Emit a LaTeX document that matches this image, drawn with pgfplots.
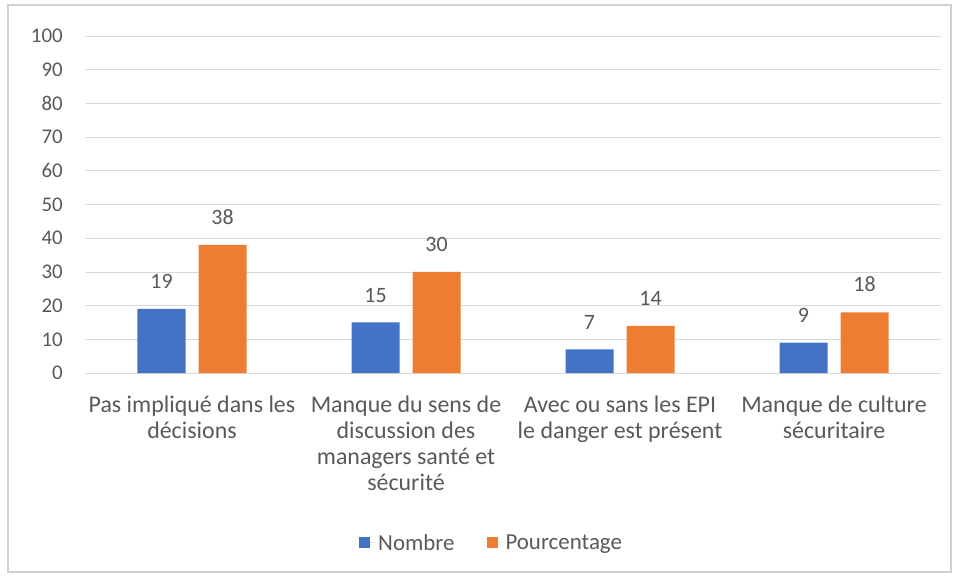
\documentclass[border=0pt]{standalone}
\usepackage{pgfplots}
\pgfplotsset{compat=1.18}
\usepackage{fontspec}
\setmainfont{Carlito}
\definecolor{cblue}{HTML}{4472C4}
\definecolor{corange}{HTML}{ED7D31}
\definecolor{ctext}{HTML}{595959}
\definecolor{cgrid}{HTML}{D9D9D9}
\begin{document}
\begin{tikzpicture}
\useasboundingbox (-85bp,-204bp) rectangle (874bp,373bp);
\fill[white] (-85bp,-204bp) rectangle (874bp,373bp);
\draw[black!18, line width=1.5bp] (-77bp,-199bp) rectangle (866bp,368bp);
\begin{axis}[
  at={(0,0)}, anchor=south west,
  scale only axis, width=856bp, height=337bp,
  xmin=-0.5, xmax=3.5, ymin=0, ymax=100,
  ytick={0,10,...,100},
  xtick={0,1,2,3},
  xticklabels={{Pas impliqué dans les\\décisions},{Manque du sens de\\discussion des\\managers santé et\\sécurité},{Avec ou sans les EPI\\le danger est présent},{Manque de culture\\sécuritaire}},
  ybar=13bp, bar width=48bp,
  ymajorgrids, grid style={cgrid, line width=0.8bp},
  axis line style={draw=none}, major tick length=0pt,
  /pgf/number format/assume math mode=true,
  yticklabel style={font=\fontsize{21}{26}\selectfont, text=ctext, anchor=east, inner sep=0pt, xshift=-22bp},
  xticklabel style={font=\fontsize{24}{26}\selectfont, text=ctext, align=center, anchor=north, inner sep=0pt, yshift=-23bp},
  nodes near coords,
  every node near coord/.append style={font=\fontsize{22}{26}\selectfont, text=ctext, inner sep=0pt, anchor=south, yshift=20bp},
  legend style={draw=none, fill=none, at={(0.475,-0.504)}, anchor=center,
    font=\fontsize{23}{26}\selectfont, text=ctext},
  legend columns=2,
  /tikz/every even column/.append style={column sep=30bp},
  legend image code/.code={\fill[#1] (0bp,-5.5bp) rectangle (11bp,5.5bp); \path (11bp,0) -- (17bp,0);},
]
\addplot[fill=cblue, draw=none] coordinates {(0,19) (1,15) (2,7) (3,9)};
\addplot[fill=corange, draw=none] coordinates {(0,38) (1,30) (2,14) (3,18)};
\legend{Nombre, Pourcentage}
\end{axis}
\end{tikzpicture}
\end{document}
